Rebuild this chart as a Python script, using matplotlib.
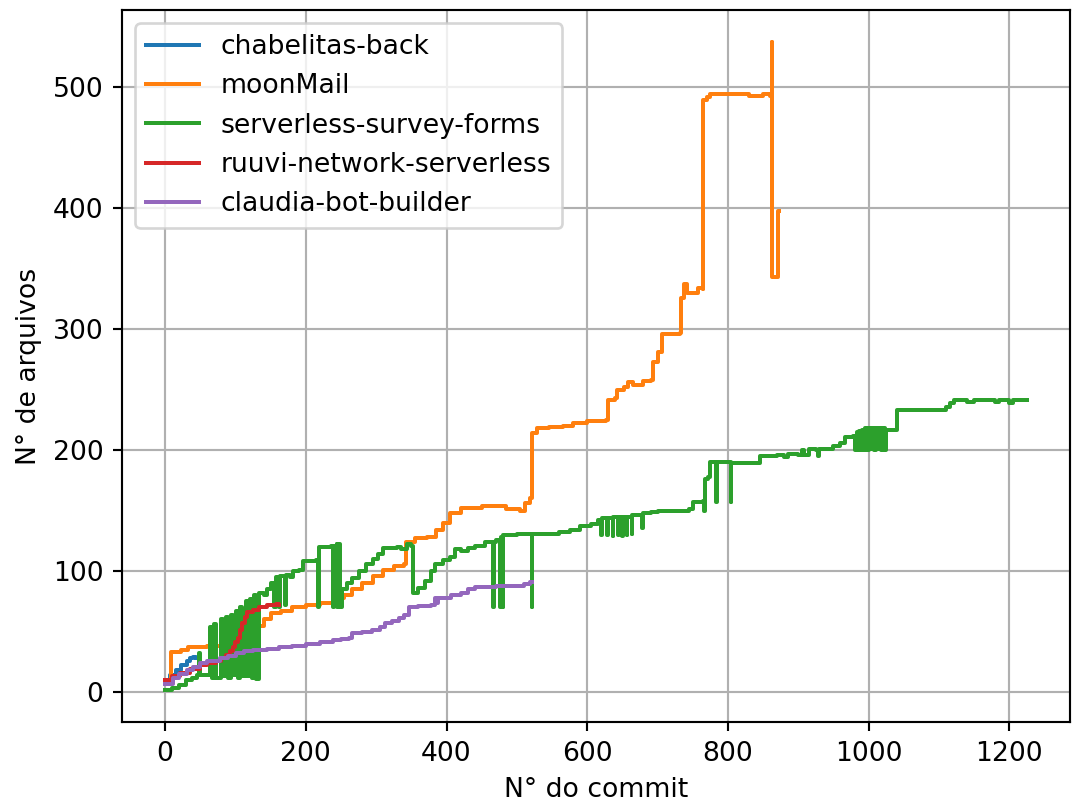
import numpy as np
import matplotlib
matplotlib.use('Agg')
import matplotlib.pyplot as plt

# Commit index -> number of files (points read off the reference,
# each value held until the next commit listed)
chabelitas_x = [0, 7, 15, 22, 31, 36, 40, 44]
chabelitas_y = [8, 14, 18, 22, 26, 28, 29, 28]

moonmail_x = [0, 9, 22, 33, 59, 88, 118, 128, 140, 150, 165, 180, 200, 220, 240, 255,
              265, 280, 295, 310, 325, 340, 342, 355, 372, 385, 395, 405, 420, 450,
              485, 505, 512, 518, 521, 528, 545, 565, 580, 600, 627, 629, 640, 643,
              652, 658, 665, 680, 690, 693, 700, 706, 732, 734, 738, 742, 752, 758,
              764, 765, 770, 775, 830, 850, 860, 862, 863, 870, 871, 872]
moonmail_y = [10, 33, 35, 37, 38, 45, 46, 55, 60, 65, 67, 70, 72, 74, 78, 80,
              85, 90, 96, 101, 104, 106, 124, 127, 128, 134, 140, 148, 152, 154,
              151, 150, 156, 160, 214, 218, 219, 220, 222, 224, 225, 241, 243, 250,
              252, 256, 254, 257, 258, 273, 281, 296, 297, 326, 337, 330, 330, 334,
              333, 489, 492, 494, 493, 494, 493, 537, 343, 343, 398, 398]

survey_x = [0, 10, 20, 30, 38, 45, 48, 49, 64, 67, 70, 73, 80, 83, 87, 90, 94, 97,
            101, 104, 106, 109, 115, 118, 120, 123, 126, 129, 133, 140, 145, 150, 155, 157, 162, 164,
            170, 172, 178, 182, 190, 196, 214, 217, 219, 236, 238, 240, 244, 245, 247, 249, 251, 258,
            266, 275, 285, 295, 303, 310, 330, 336, 344, 350, 352, 360, 370, 378, 384, 395, 405, 412,
            420, 430, 440, 455, 466, 467, 470, 476, 477, 480, 481, 500, 521, 522, 540, 560, 575, 590,
            605, 615, 620, 621, 628, 629, 636, 637, 644, 645, 650, 651, 656, 657, 663, 664, 675, 678,
            679, 690, 700, 745, 750, 764, 766, 768, 772, 774, 783, 784, 804, 805, 840, 845, 870, 880,
            885, 900, 905, 908, 915, 925, 928, 930, 950, 960, 967, 978, 981, 983, 985, 987, 989, 991,
            993, 995, 998, 1000, 1003, 1005, 1008, 1010, 1013, 1015, 1018, 1020, 1023, 1025, 1040, 1041, 1105, 1110,
            1115, 1122, 1140, 1150, 1180, 1185, 1200, 1205, 1215, 1225]
survey_y = [2, 3, 6, 10, 12, 14, 32, 14, 54, 12, 56, 12, 60, 13, 62, 12, 64, 14,
            67, 12, 70, 13, 75, 13, 77, 12, 80, 11, 82, 80, 85, 90, 70, 95, 70, 96,
            72, 97, 95, 100, 101, 108, 109, 70, 120, 121, 70, 121, 122, 70, 122, 70, 85, 90,
            94, 100, 106, 110, 114, 119, 120, 118, 122, 121, 82, 86, 92, 100, 106, 109, 112, 118,
            117, 119, 121, 124, 70, 124, 126, 70, 128, 70, 130, 131, 70, 131, 131, 132, 134, 137,
            139, 142, 130, 144, 130, 144, 129, 145, 130, 145, 129, 145, 130, 145, 131, 146, 146, 136,
            148, 149, 150, 151, 157, 158, 150, 176, 178, 190, 157, 190, 157, 189, 189, 195, 196, 194,
            197, 196, 200, 196, 201, 200, 195, 201, 203, 206, 211, 212, 200, 215, 200, 216, 200, 217,
            200, 218, 200, 218, 201, 218, 200, 218, 201, 218, 200, 218, 200, 217, 217, 233, 233, 236,
            239, 241, 240, 241, 240, 241, 239, 241, 241, 241]

ruuvi_x = [0, 10, 21, 35, 49, 60, 73, 80, 87, 92, 96, 100, 103, 107, 110, 114, 117,
           125, 134, 145, 158, 162]
ruuvi_y = [10, 13, 16, 19, 22, 24, 26, 28, 31, 34, 37, 41, 45, 51, 57, 62, 66,
           68, 70, 72, 73, 72]

claudia_x = [0, 11, 20, 31, 40, 49, 60, 78, 90, 101, 112, 125, 145, 162, 180, 200,
             220, 238, 250, 261, 266, 280, 294, 305, 313, 322, 332, 340, 346, 360,
             378, 384, 386, 388, 407, 420, 430, 440, 470, 501, 510, 518, 522]
claudia_y = [7, 12, 15, 18, 21, 24, 26, 28, 30, 32, 34, 35, 36, 37, 38, 40,
             41, 43, 44, 45, 49, 50, 51, 54, 57, 59, 61, 64, 70, 71,
             72, 78, 74, 78, 80, 82, 85, 87, 88, 88, 89, 91, 91]

series = [
    ('chabelitas-back', chabelitas_x, chabelitas_y),
    ('moonMail', moonmail_x, moonmail_y),
    ('serverless-survey-forms', survey_x, survey_y),
    ('ruuvi-network-serverless', ruuvi_x, ruuvi_y),
    ('claudia-bot-builder', claudia_x, claudia_y),
]

fig = plt.figure(figsize=(1072 / 192, 805 / 192), dpi=192)
ax = fig.add_axes([122 / 1072, 83 / 805, 948 / 1072, 712 / 805])

for name, xs, ys in series:
    ax.plot(xs, ys, drawstyle='steps-post', label=name)

ax.set_xlabel('N° do commit')
ax.set_ylabel('N° de arquivos')
ax.grid(True)
ax.legend(loc='upper left')

fig.savefig('out.png', dpi=192)
